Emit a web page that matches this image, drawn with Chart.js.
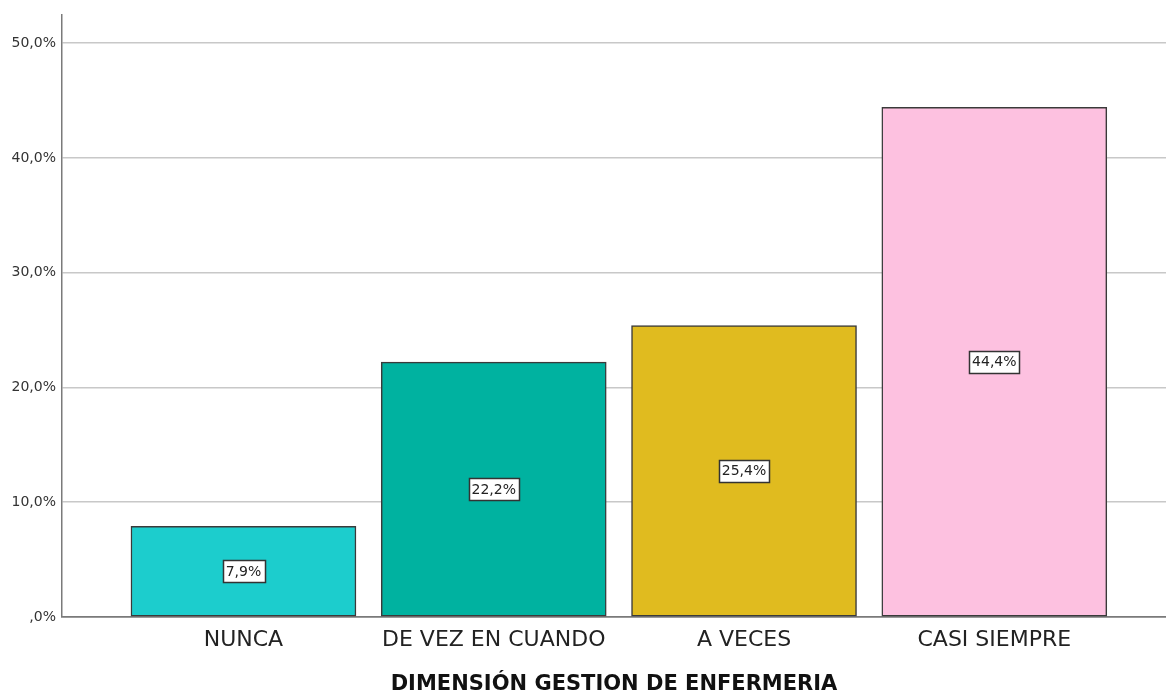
<!DOCTYPE html>
<html>
<head>
<meta charset="utf-8">
<script src="https://cdn.jsdelivr.net/npm/chart.js@4.4.1/dist/chart.umd.min.js"></script>
<style>
  html, body { margin: 0; padding: 0; background: #ffffff; }
  #wrap { width: 1166px; height: 692px; position: relative; }
</style>
</head>
<body>
<div id="wrap"><canvas id="c" width="1166" height="692"></canvas></div>
<script>
const categories = ["NUNCA", "DE VEZ EN CUANDO", "A VECES", "CASI SIEMPRE"];
const percentValues = [7.9, 22.2, 25.4, 44.4];
const barColors = ["#1ccdcd", "#00b2a0", "#e0bb1f", "#fdc1e0"];
const yTickValues = [0, 10, 20, 30, 40, 50];
const axisTitle = "DIMENSIÓN GESTION DE ENFERMERIA";

function fmtPct(v, dec) {
  let s = v.toFixed(dec).replace('.', ',');
  if (s.startsWith('0,')) s = s.slice(1);
  return s + '%';
}

const valueLabels = {
  id: 'valueLabels',
  afterDatasetsDraw(chart) {
    const ctx = chart.ctx;
    const meta = chart.getDatasetMeta(0);
    ctx.save();
    ctx.font = '14px "DejaVu Sans"';
    ctx.textAlign = 'center';
    ctx.textBaseline = 'middle';
    meta.data.forEach((el, i) => {
      const txt = fmtPct(percentValues[i], 1);
      const cx = el.x;
      const cy = (el.y + el.base) / 2;
      const w = ctx.measureText(txt).width + 6;
      const h = 22;
      ctx.fillStyle = '#ffffff';
      ctx.fillRect(Math.round(cx - w / 2) + 0.5, Math.round(cy - h / 2) + 0.5, Math.round(w), h);
      ctx.strokeStyle = '#333333';
      ctx.lineWidth = 1.5;
      ctx.strokeRect(Math.round(cx - w / 2) + 0.5, Math.round(cy - h / 2) + 0.5, Math.round(w), h);
      ctx.fillStyle = '#222222';
      ctx.fillText(txt, cx, cy + 1);
    });
    ctx.restore();
  }
};

new Chart(document.getElementById('c'), {
  type: 'bar',
  data: {
    datasets: [{
      data: categories.map((c, i) => ({ x: i + 1, y: percentValues[i] })),
      backgroundColor: barColors,
      borderColor: '#3a3a3a',
      borderWidth: 1.5,
      borderSkipped: false,
      barThickness: 225
    }]
  },
  options: {
    responsive: false,
    animation: false,
    events: [],
    layout: { padding: { top: 13, right: 0, bottom: 0, left: 0 } },
    plugins: { legend: { display: false }, tooltip: { enabled: false } },
    scales: {
      x: {
        type: 'linear',
        offset: false,
        min: 0.275,
        max: 4.686,
        grid: { display: false, offset: false },
        border: { display: true, color: '#7a7a7a', width: 1.5 },
        afterBuildTicks(scale) { scale.ticks = categories.map((c, i) => ({ value: i + 1 })); },
        afterFit(scale) { scale.height = 75; },
        ticks: {
          autoSkip: false,
          maxRotation: 0,
          padding: 2,
          color: '#222222',
          font: { family: '"DejaVu Sans"', size: 22 },
          callback: (v) => categories[Math.round(v) - 1]
        },
        title: {
          display: true,
          text: axisTitle,
          color: '#111111',
          font: { family: '"DejaVu Sans"', size: 21, weight: 'bold', lineHeight: 1 },
          padding: { top: 0, bottom: -3 }
        }
      },
      y: {
        min: 0,
        max: 52.5,
        afterBuildTicks(scale) { scale.ticks = yTickValues.map(v => ({ value: v })); },
        afterFit(scale) { scale.width = 62; },
        grid: {
          color: (c) => c.tick && c.tick.value === 0 ? '#7a7a7a' : '#c8c8c8',
          lineWidth: 1.5,
          drawTicks: false
        },
        border: { display: true, color: '#7a7a7a', width: 1.5 },
        ticks: {
          padding: 6,
          color: '#333333',
          font: { family: '"DejaVu Sans"', size: 14 },
          callback: (v) => fmtPct(v, 1)
        }
      }
    }
  },
  plugins: [valueLabels]
});
</script>
</body>
</html>
